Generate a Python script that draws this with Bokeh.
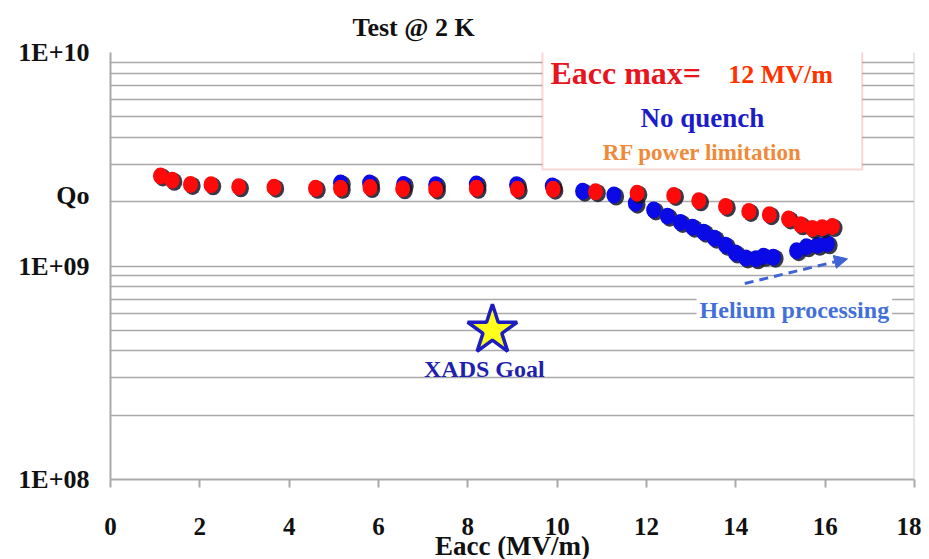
from bokeh.plotting import figure
from bokeh.models import (FixedTicker, CustomJSTickFormatter, Label, BoxAnnotation,
                          Arrow, NormalHead, Span)
from bokeh.embed import file_html
from bokeh.resources import INLINE

# ---------------- data ----------------
red_eacc = [1.12, 1.38, 1.79, 2.25, 2.87, 3.66, 4.59, 5.15, 5.81, 6.54, 7.28, 8.19, 9.11,
            9.91, 10.86, 11.79, 12.61, 13.17, 13.77, 14.29, 14.75, 15.18, 15.45, 15.71,
            15.93, 16.16]
red_q0 = [2.64e9, 2.52e9, 2.41e9, 2.40e9, 2.35e9, 2.34e9, 2.31e9, 2.31e9, 2.33e9, 2.30e9,
          2.29e9, 2.31e9, 2.29e9, 2.29e9, 2.23e9, 2.19e9, 2.14e9, 2.02e9, 1.90e9, 1.80e9,
          1.74e9, 1.66e9, 1.56e9, 1.50e9, 1.51e9, 1.53e9]

blue_eacc = [5.15, 5.80, 6.56, 7.28, 8.19, 9.09, 9.89, 10.57, 11.27, 11.75, 12.16, 12.47,
             12.76, 13.03, 13.28, 13.52, 13.77, 13.99, 14.22, 14.45, 14.62, 14.84, 15.36,
             15.58, 15.83, 16.05]
blue_q0 = [2.45e9, 2.45e9, 2.41e9, 2.40e9, 2.42e9, 2.40e9, 2.37e9, 2.24e9, 2.15e9, 1.97e9,
           1.83e9, 1.71e9, 1.60e9, 1.52e9, 1.44e9, 1.35e9, 1.25e9, 1.15e9, 1.09e9, 1.08e9,
           1.11e9, 1.10e9, 1.18e9, 1.23e9, 1.25e9, 1.27e9]

goal_eacc = [8.55]
goal_q0 = [5.0e8]

x_ticks = [0, 2, 4, 6, 8, 10, 12, 14, 16, 18]
y_major = [1e8, 1e9, 1e10]
y_minor = [m * 10 ** e for e in (8, 9) for m in range(2, 10)]
q_label_pos = 2.13e9   # where the "Qo" axis caption sits

FONT = "Liberation Serif"
RED = "#ff0a0a"
BLUE = "#0a0ae6"
GRID = "#a9a9a9"

# ---------------- figure ----------------
p = figure(frame_width=804, frame_height=427, x_range=(0, 18), y_range=(1e8, 1e10),
           y_axis_type="log", output_backend="svg", toolbar_location=None,
           min_border_left=110, min_border_right=7, min_border_top=52,
           min_border_bottom=72, background_fill_color="white",
           border_fill_color="white")
p.outline_line_color = None

p.title.text = "Test @ 2 K"
p.title.align = "left"
p.title.offset = 242
p.title.standoff = 21
p.title.text_font = FONT
p.title.text_font_style = "bold"
p.title.text_font_size = "26px"
p.title.text_color = "#111111"

# x axis
xa = p.xaxis[0]
xa.ticker = FixedTicker(ticks=x_ticks, minor_ticks=[])
xa.axis_line_color = GRID
xa.axis_line_width = 2
xa.major_tick_line_color = GRID
xa.major_tick_line_width = 2
xa.major_tick_in = 0
xa.major_tick_out = 8
xa.major_label_standoff = 30
xa.major_label_text_font = FONT
xa.major_label_text_font_style = "bold"
xa.major_label_text_font_size = "25px"
xa.major_label_text_color = "#111111"
xa.axis_label = "Eacc (MV/m)"
xa.axis_label_standoff = -7
xa.axis_label_text_font = FONT
xa.axis_label_text_font_style = "bold"
xa.axis_label_text_font_size = "27px"
xa.axis_label_text_color = "#111111"

# y axis
ya = p.yaxis[0]
ya.ticker = FixedTicker(ticks=y_major + [q_label_pos], minor_ticks=y_minor)
ya.formatter = CustomJSTickFormatter(code="""
    const l = Math.log10(tick);
    const e = Math.round(l);
    if (Math.abs(l - e) > 0.01) { return 'Qo'; }
    return '1E+' + String(e).padStart(2, '0');
""")
ya.axis_line_color = GRID
ya.axis_line_width = 2
ya.major_tick_in = 0
ya.major_tick_out = 0
ya.minor_tick_in = 0
ya.minor_tick_out = 0
ya.major_label_standoff = 21
ya.major_label_text_font = FONT
ya.major_label_text_font_style = "bold"
ya.major_label_text_font_size = "26px"
ya.major_label_text_color = "#111111"

p.xgrid.visible = False
p.ygrid.ticker = FixedTicker(ticks=[1e9], minor_ticks=y_minor)
p.ygrid.grid_line_color = GRID
p.ygrid.grid_line_width = 1.6
p.ygrid.minor_grid_line_color = GRID
p.ygrid.minor_grid_line_width = 1.6

p.add_layout(Span(location=18, dimension="height", line_color="#cfcfcf", line_width=2))

# ---------------- data points ----------------
def dots(xs, ys, color):
    sx = [v + 0.05 for v in xs]
    sy = [v * 0.984 for v in ys]
    p.ellipse(x=sx, y=sy, width=16, height=18, width_units="screen",
              height_units="screen", fill_color="#151528", line_color=None, fill_alpha=0.85)
    p.ellipse(x=xs, y=ys, width=15, height=17, width_units="screen",
              height_units="screen", fill_color=color, line_color=None)

dots(blue_eacc, blue_q0, BLUE)
dots(red_eacc, red_q0, RED)

# goal star
p.scatter(x=goal_eacc, y=goal_q0, marker="star", size=52, fill_color="#ffff1a",
          line_color="#1c1cc0", line_width=3.5)

# ---------------- annotations ----------------
def lab(x, y, text, size, color, align="center", **kw):
    p.add_layout(Label(x=x, y=y, text=text, text_font=FONT, text_font_style="bold",
                       text_font_size=size, text_color=color, text_align=align,
                       text_baseline="middle", **kw))

lab(8.37, 3.28e8, "XADS Goal", "24px", "#1f1fb0")

# legend box
p.add_layout(BoxAnnotation(left=9.67, right=16.83, top=1.02e10, bottom=2.83e9,
                           fill_color="white", fill_alpha=1, line_color="#f07878",
                           line_width=2))
p.add_layout(BoxAnnotation(left=13.32, right=16.7, top=1.05e10, bottom=6.4e9,
                           fill_color="white", fill_alpha=1, line_color=None))
lab(9.85, 8.03e9, "Eacc max=", "32px", "#e8141e", align="left")
lab(13.83, 7.86e9, "12 MV/m", "26px", "#ff3300", align="left")
lab(13.25, 4.96e9, "No quench", "27px", "#1c1cc8")
lab(13.25, 3.41e9, "RF power limitation", "23px", "#f08a3a")

# helium processing
ARROW = "#3f63d4"
p.add_layout(Arrow(end=NormalHead(size=13, fill_color=ARROW, line_color=ARROW),
                   x_start=14.2, y_start=8.28e8, x_end=16.5, y_end=1.08e9,
                   line_color=ARROW, line_width=3, line_dash="9 6"))
lab(15.31, 6.24e8, "Helium processing", "24px", "#4270d8",
    background_fill_color="white", background_fill_alpha=1.0, padding=3)

open("out.html", "w").write(file_html(p, INLINE))
